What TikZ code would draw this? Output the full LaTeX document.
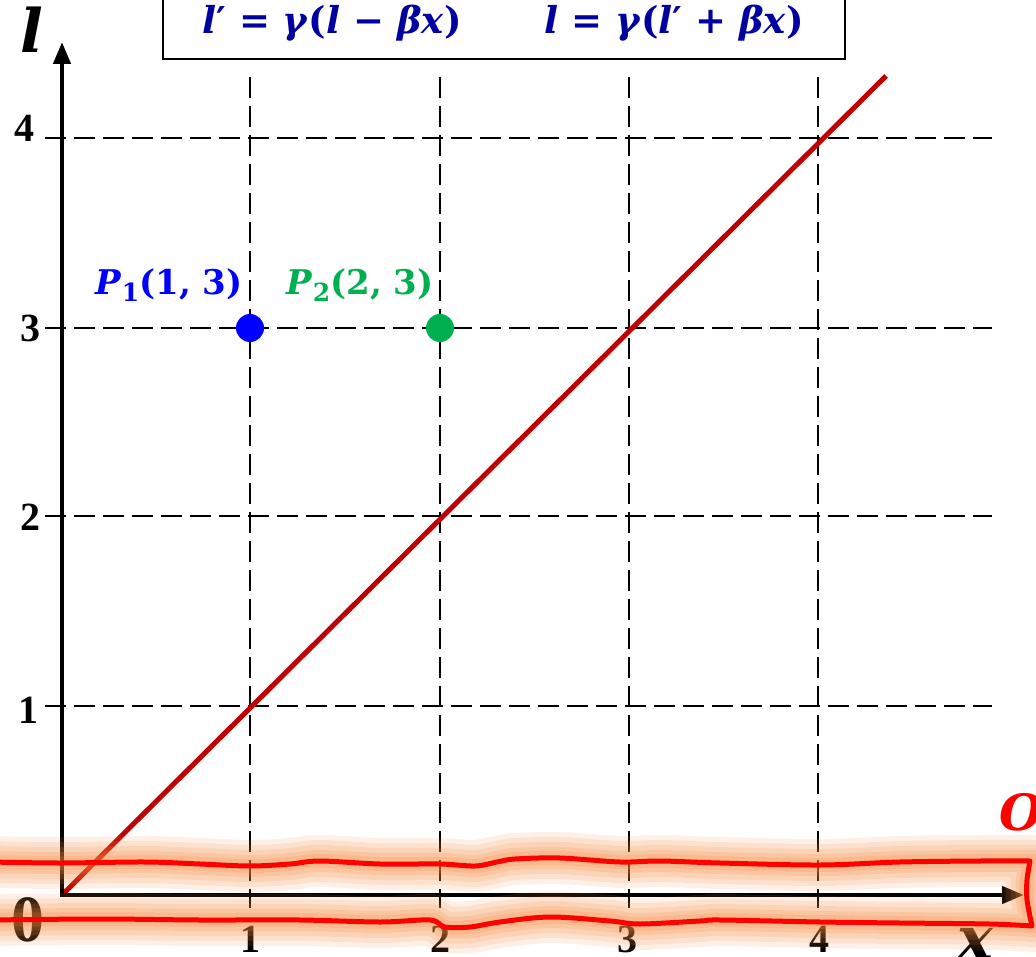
\documentclass[tikz,border=0pt]{standalone}
\usepackage{fontspec}
\setmainfont{Liberation Serif}
\newfontfamily\dvs{DejaVu Serif}
\usetikzlibrary{arrows.meta}
\definecolor{formblue}{RGB}{0,0,160}
\definecolor{pblue}{RGB}{0,0,255}
\definecolor{pgreen}{RGB}{0,176,80}
\definecolor{diagred}{RGB}{192,0,0}
\definecolor{hlred}{RGB}{255,0,0}
\definecolor{glow}{RGB}{245,135,60}
\newcommand{\mi}[1]{\textit{#1}}
\newcommand{\subd}[1]{\raisebox{-0.22em}{\fontsize{25}{25}\selectfont #1}}
\tikzset{
  gridline/.style={line width=2pt, dash pattern=on 21pt off 8pt, black},
  axisline/.style={line width=4.5pt, black, line join=miter},
  ticklab/.style={font=\fontsize{40}{46}\selectfont\bfseries, inner sep=0pt},
  dot/.style={circle, inner sep=0pt, minimum size=28pt},
  plab/.style={font=\fontsize{34}{40}\selectfont\dvs\bfseries, inner sep=0pt},
  formtxt/.style={font=\fontsize{37}{42}\selectfont\dvs\bfseries, text=formblue, inner sep=0pt, anchor=base},
  biglab/.style={font=\fontsize{60}{66}\selectfont\dvs\bfseries\itshape, inner sep=0pt},
  hl/.style={line width=5pt, draw=hlred, line join=round, line cap=round}
}
\begin{document}
\begin{tikzpicture}[x=1pt,y=-1pt]
\useasboundingbox (0,0) rectangle (1036,957);
\clip (0,0) rectangle (1036,957);
% coordinates
\coordinate (O) at (62,895);
\coordinate (ytip) at (62,42);
\coordinate (xtip) at (1024,895);
\foreach \i/\px in {1/250,2/440,3/629,4/818}{
  \coordinate (vt\i) at (\px,77);
  \coordinate (vb\i) at (\px,908);
}
\foreach \i/\py in {1/706,2/516,3/328,4/138}{
  \coordinate (hl\i) at (45,\py);
  \coordinate (hr\i) at (992,\py);
}
% grid
\foreach \i in {1,2,3,4}{
  \draw[gridline] (vt\i) -- (vb\i);
  \draw[gridline] (hl\i) -- (hr\i);
}
% diagonal line
\coordinate (dend) at (886,76);
\draw[diagred, line width=5pt] (O) -- (dend);
% axes
\draw[axisline, {Triangle[length=22pt,width=17pt]}-{Triangle[length=22pt,width=17pt]}] (ytip) -- (O) -- (xtip);
% formula box
\node[draw, line width=2pt, minimum width=682pt, minimum height=100pt, inner sep=0pt] (formbox) at (504,9) {};
\node[formtxt] (f1) at (332,34) {\mi{l}′ = \mi{γ}(\mi{l} − \mi{βx})};
\node[formtxt] (f2) at (674,34) {\mi{l} = \mi{γ}(\mi{l}′ + \mi{βx})};
% axis labels
\node[biglab] (lab-l) at (32,30) {l};
\node[biglab] (lab-x) at (975,944) {x};
\node[font=\fontsize{66}{72}\selectfont\bfseries, inner sep=0pt] (lab-0) at (28,920) {0};
% tick labels
\node[ticklab] (tx1) at (250,939) {1};
\node[ticklab] (tx2) at (440,939) {2};
\node[ticklab] (tx3) at (627,939) {3};
\node[ticklab] (tx4) at (819,939) {4};
\node[ticklab] (ty4) at (24,128) {4};
\node[ticklab] (ty3) at (30,328) {3};
\node[ticklab] (ty2) at (30,517) {2};
\node[ticklab] (ty1) at (28,710) {1};
% points
\node[dot, fill=pblue] (p1) at (250,328) {};
\node[dot, fill=pgreen] (p2) at (440,328) {};
\node[plab, text=pblue] (p1lab) at (169,285) {\mi{P}\subd{1}(1, 3)};
\node[plab, text=pgreen] (p2lab) at (360,285) {\mi{P}\subd{2}(2, 3)};
% O label
\node[font=\fontsize{50}{56}\selectfont\dvs\bfseries\itshape, text=hlred, inner sep=0pt, anchor=west] (lab-O) at (999,812) {O};
% highlight
\draw[hl,
  preaction={draw=glow, line width=52pt, opacity=0.12},
  preaction={draw=glow, line width=42pt, opacity=0.14},
  preaction={draw=glow, line width=32pt, opacity=0.16},
  preaction={draw=glow, line width=22pt, opacity=0.18},
  preaction={draw=glow, line width=14pt, opacity=0.2}]
  plot[smooth, tension=0.55] coordinates {(-10,862) (60,863) (145,862) (200,864) (250,866) (290,864) (320,861) (380,864) (440,864) (475,866) (497,862) (515,859) (560,858) (620,862) (660,861) (720,863) (820,865) (900,862) (980,861) (1030,861)}
  -- plot[smooth, tension=0.5] coordinates {(1030,861) (1027,880) (1027,900) (1032,926)}
  -- plot[smooth, tension=0.55] coordinates {(1032,926) (990,924) (900,923) (820,922) (720,920) (700,921) (640,924) (610,921) (550,917) (500,922) (470,927) (445,927) (430,920) (380,922) (300,920) (200,920) (100,919) (-10,920)};
\end{tikzpicture}
\end{document}
